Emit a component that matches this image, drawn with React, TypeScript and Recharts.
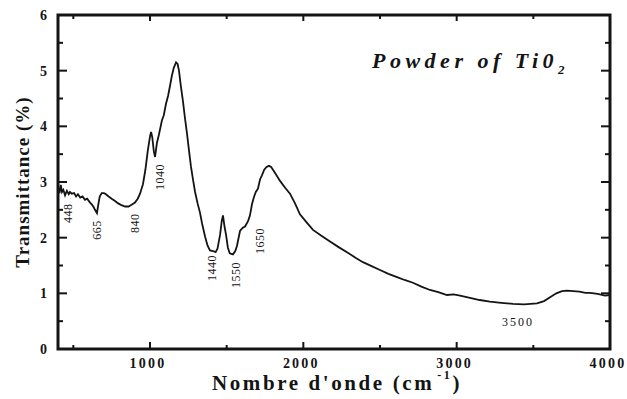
import { LineChart, Line, XAxis, YAxis, ReferenceDot, ReferenceArea } from 'recharts'

// FTIR spectrum
const wavenumber = [
  400, 410, 418, 426, 435, 446, 458, 470, 478, 490, 505, 518, 530, 545, 560, 576, 590, 609, 620, 632,
  641, 654, 662, 672, 685, 700, 713, 730, 750, 772, 790, 810, 837, 860, 880, 902, 920, 935, 954, 970,
  985, 1000, 1007, 1015, 1025, 1033, 1045, 1058, 1078, 1090, 1104, 1118, 1130, 1142, 1155, 1170, 1180, 1189, 1200, 1215,
  1228, 1241, 1255, 1267, 1280, 1294, 1310, 1326, 1340, 1359, 1375, 1391, 1411, 1428, 1440, 1457, 1468, 1476, 1486, 1496,
  1508, 1520, 1541, 1556, 1567, 1587, 1605, 1620, 1640, 1652, 1665, 1678, 1690, 1704, 1718, 1730, 1745, 1760, 1776, 1790,
  1802, 1825, 1848, 1880, 1913, 1945, 1978, 2020, 2063, 2120, 2174, 2230, 2285, 2340, 2389, 2445, 2500, 2555, 2611, 2660,
  2715, 2770, 2826, 2880, 2937, 2980, 3022, 3087, 3150, 3217, 3290, 3367, 3440, 3524, 3570, 3609, 3650, 3687, 3720, 3759,
  3800, 3840, 3870, 3920, 3967, 4000,
]
const transmittance = [
  2.92, 2.8, 2.95, 2.82, 2.86, 2.76, 2.84, 2.78, 2.82, 2.79, 2.8, 2.74, 2.78, 2.72, 2.74, 2.68, 2.7, 2.63, 2.6, 2.55,
  2.5, 2.44, 2.58, 2.74, 2.8, 2.8, 2.78, 2.74, 2.7, 2.66, 2.62, 2.59, 2.56, 2.56, 2.59, 2.63, 2.7, 2.79, 2.96, 3.22,
  3.55, 3.82, 3.9, 3.8, 3.55, 3.45, 3.7, 3.85, 4.11, 4.2, 4.4, 4.55, 4.72, 4.9, 5.05, 5.15, 5.12, 5.0, 4.75, 4.45,
  4.15, 3.88, 3.55, 3.28, 3.05, 2.82, 2.62, 2.45, 2.25, 2.02, 1.86, 1.77, 1.76, 1.74, 1.8, 2.05, 2.3, 2.4, 2.2, 2.05,
  1.82, 1.72, 1.7, 1.76, 1.85, 2.12, 2.18, 2.2, 2.3, 2.4, 2.6, 2.73, 2.82, 2.88, 3.05, 3.12, 3.22, 3.27, 3.29, 3.27,
  3.22, 3.12, 3.02, 2.9, 2.79, 2.62, 2.42, 2.28, 2.14, 2.03, 1.93, 1.83, 1.74, 1.64, 1.56, 1.49, 1.42, 1.35, 1.29, 1.24,
  1.19, 1.12, 1.06, 1.02, 0.97, 0.98, 0.96, 0.92, 0.88, 0.85, 0.83, 0.81, 0.8, 0.82, 0.86, 0.93, 1.0, 1.04, 1.05, 1.04,
  1.03, 1.01, 1.01, 0.99, 0.96, 0.97,
]

const xTicks = [500, 1000, 1500, 2000, 2500, 3000, 3500, 4000]
const yTicks = [0, 0.5, 1, 1.5, 2, 2.5, 3, 3.5, 4, 4.5, 5, 5.5, 6]
const xMin = 400
const xMax = 4000
const yMin = 0
const yMax = 6

// band labels and where they sit (data coordinates)
const peakLabels = ['448', '665', '840', '1040', '1440', '1550', '1650']
const peakX = [465, 654, 902, 1065, 1404, 1561, 1717]
const peakY = [2.44, 2.14, 2.26, 3.09, 1.455, 1.33, 1.94]
const bandLabel = '3500'
const bandX = 3400
const bandY = 0.49

const data = wavenumber.map((x, i) => ({ x, t: transmittance[i] }))

const FONT = "'Liberation Serif', 'Times New Roman', serif"
const INK = '#141414'

const BottomTick = (props: any) => {
  const { x, y, payload } = props
  if (payload.value % 1000 !== 0) return <g />
  return (
    <text x={x - 2} y={y + 19} textAnchor="middle" fontFamily={FONT} fontWeight="bold" fontSize={14} letterSpacing={2.2} fill={INK}>
      {payload.value}
    </text>
  )
}

const LeftTick = (props: any) => {
  const { x, y, payload } = props
  if (!Number.isInteger(payload.value)) return <g />
  return (
    <text x={x - 11} y={y + 5} textAnchor="end" fontFamily={FONT} fontWeight="bold" fontSize={14} fill={INK}>
      {payload.value}
    </text>
  )
}

// inward tick mark drawn as the label of a zero-size reference dot
const tickMark = (dx: number, dy: number, w: number, h: number) => (props: any) => {
  const { viewBox } = props
  return <rect x={viewBox.x + dx} y={viewBox.y + dy} width={w} height={h} fill={INK} />
}

const vLabel = (text: string) => (props: any) => {
  const { viewBox } = props
  const cx = viewBox.x
  const cy = viewBox.y
  return (
    <text
      x={cx}
      y={cy}
      transform={`rotate(-90, ${cx}, ${cy})`}
      textAnchor="middle"
      dominantBaseline="central"
      fontFamily={FONT}
      fontSize={12}
      letterSpacing={0.5}
      fill={INK}
    >
      {text}
    </text>
  )
}

const hLabel = (text: string) => (props: any) => {
  const { viewBox } = props
  return (
    <text x={viewBox.x} y={viewBox.y} textAnchor="middle" dominantBaseline="central" fontFamily={FONT} fontSize={12} letterSpacing={2} fill={INK}>
      {text}
    </text>
  )
}

const XTitle = (props: any) => {
  const { viewBox } = props
  const cx = viewBox.x + viewBox.width / 2 + 3
  return (
    <text x={cx} y={viewBox.y + 41} textAnchor="middle" fontFamily={FONT} fontWeight="bold" fontSize={21} letterSpacing={2.6} fill={INK}>
      Nombre d'onde (cm
      <tspan dx={3} dy={-11} fontSize={12}>-1</tspan>
      <tspan dy={11}>)</tspan>
    </text>
  )
}

const YTitle = (props: any) => {
  const { viewBox } = props
  const cx = 22
  const cy = viewBox.y + viewBox.height / 2
  return (
    <text
      x={cx}
      y={cy}
      transform={`rotate(-90, ${cx}, ${cy})`}
      textAnchor="middle"
      dominantBaseline="central"
      fontFamily={FONT}
      fontWeight="bold"
      fontSize={19}
      letterSpacing={1}
      fill={INK}
    >
      Transmittance (%)
    </text>
  )
}

export default function App() {
  return (
    <div style={{ position: 'absolute', left: 0, top: 0, width: 627, height: 399, background: '#fff' }}>
      <LineChart width={627} height={399} data={data} margin={{ top: 15, right: 17, left: 18, bottom: 20 }}>
        <XAxis
          dataKey="x"
          type="number"
          domain={[xMin, xMax]}
          ticks={xTicks}
          allowDataOverflow
          height={30}
          tickSize={0}
          tickMargin={0}
          tickLine={false}
          tick={BottomTick}
          axisLine={false}
          label={<XTitle />}
        />
        <YAxis
          type="number"
          domain={[yMin, yMax]}
          ticks={yTicks}
          width={40}
          tickSize={0}
          tickMargin={0}
          tickLine={false}
          tick={LeftTick}
          axisLine={false}
          label={<YTitle />}
        />
        <ReferenceArea
          x1={xMin}
          x2={xMax}
          y1={yMin}
          y2={yMax}
          fill="none"
          fillOpacity={0}
          stroke={INK}
          strokeWidth={3}
          ifOverflow="visible"
        />
        <Line
          dataKey="t"
          type="linear"
          stroke={INK}
          strokeWidth={1.8}
          dot={false}
          isAnimationActive={false}
        />
        {xTicks.map((v) => {
          const len = v % 1000 === 0 ? 7 : 4
          return (
            <ReferenceDot key={`b${v}`} x={v} y={yMin} r={0} stroke="none" fill="none" label={tickMark(-1, -len, 2, len)} />
          )
        })}
        {xTicks.map((v) => {
          const len = v % 1000 === 0 ? 6 : 4
          return (
            <ReferenceDot key={`t${v}`} x={v} y={yMax} r={0} stroke="none" fill="none" label={tickMark(-1, 0, 2, len)} />
          )
        })}
        {yTicks.map((v) => {
          const len = Number.isInteger(v) ? 9 : 5
          return (
            <ReferenceDot key={`l${v}`} x={xMin} y={v} r={0} stroke="none" fill="none" label={tickMark(0, -1, len, 2)} />
          )
        })}
        {yTicks.map((v) => {
          const len = Number.isInteger(v) ? 9 : 5
          return (
            <ReferenceDot key={`r${v}`} x={xMax} y={v} r={0} stroke="none" fill="none" label={tickMark(-len, -1, len, 2)} />
          )
        })}
        {peakLabels.map((p, i) => (
          <ReferenceDot key={p} x={peakX[i]} y={peakY[i]} r={0} stroke="none" fill="none" label={vLabel(p)} />
        ))}
        <ReferenceDot x={bandX} y={bandY} r={0} stroke="none" fill="none" label={hLabel(bandLabel)} />
      </LineChart>
      <div
        style={{
          position: 'absolute',
          left: 372,
          top: 49,
          fontFamily: FONT,
          fontWeight: 'bold',
          fontStyle: 'italic',
          fontSize: 22,
          letterSpacing: 4.5,
          color: INK,
          whiteSpace: 'nowrap',
          lineHeight: '24px',
        }}
      >
        Powder of Ti0<sub style={{ fontSize: 13, verticalAlign: -6 }}>2</sub>
      </div>
    </div>
  )
}
